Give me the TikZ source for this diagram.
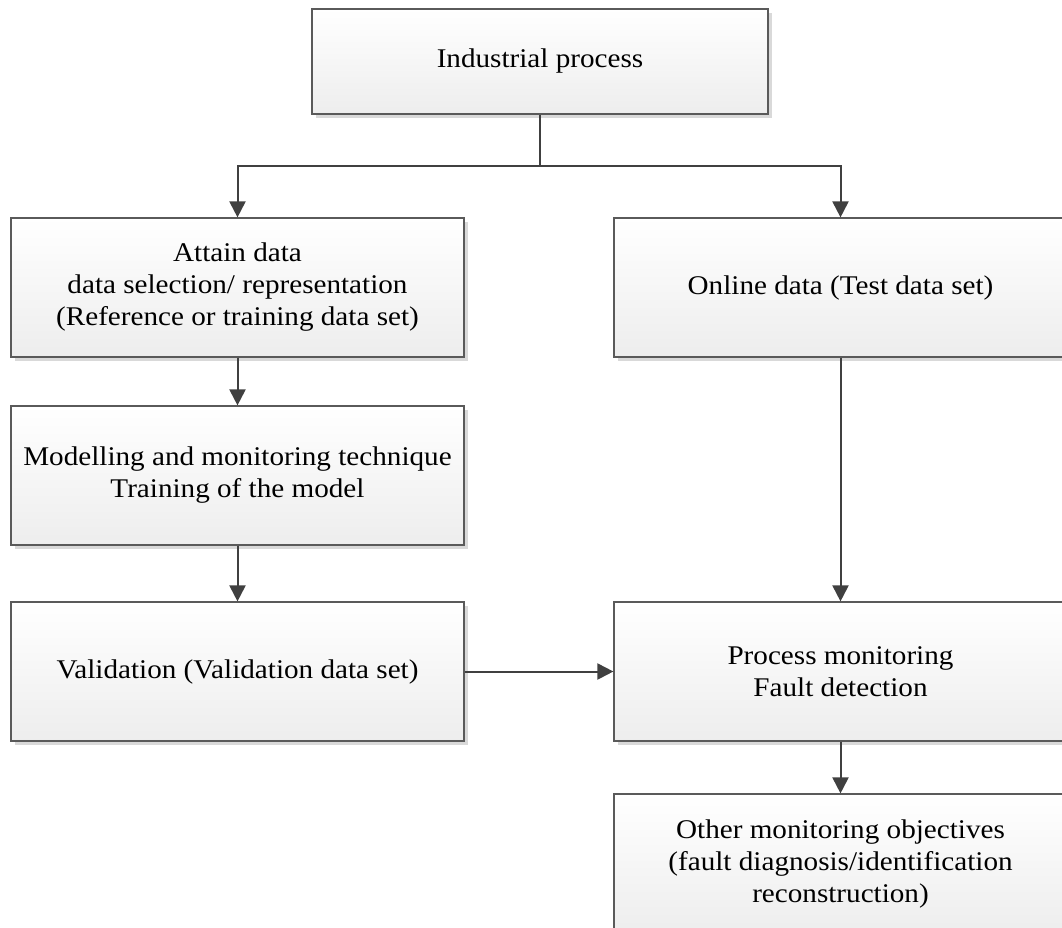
\documentclass[tikz,border=0pt]{standalone}
\usepackage{fontspec}
\setmainfont[FakeStretch=1.08]{Liberation Serif}
\usetikzlibrary{arrows.meta,shadows}
\definecolor{linec}{HTML}{404040}
\definecolor{boxc}{HTML}{5A5A5A}
\tikzset{
  box/.style={draw=boxc, line width=1.2pt, top color=white, bottom color=black!7,
    minimum width=453pt, minimum height=139pt, align=center, inner sep=0pt,
    font=\fontsize{27}{32}\selectfont,
    drop shadow={shadow xshift=4pt, shadow yshift=-4pt, fill=black!15, opacity=1}},
  conn/.style={draw=linec, line width=2pt},
  arr/.style={conn, -{Triangle[length=16pt,width=16pt]}}
}
\begin{document}
\begin{tikzpicture}[x=1pt,y=-1pt]
\useasboundingbox (0,0) rectangle (1062,927);
\clip (0,0) rectangle (1062,927);
\node[box, minimum width=456pt, minimum height=105pt] (ind) at (540,61.5) {Industrial process};
\node[box] (att) at (237.5,287.5) {Attain data\\data selection/ representation\\(Reference or training data set)};
\node[box] (mod) at (237.5,475.5) {Modelling and monitoring technique\\Training of the model};
\node[box] (val) at (237.5,671.5) {Validation (Validation data set)};
\node[box] (onl) at (840.5,287.5) {Online data (Test data set)};
\node[box] (pm) at (840.5,671.5) {Process monitoring\\Fault detection};
\node[box] (oth) at (840.5,863.5) {Other monitoring objectives\\(fault diagnosis/identification\\reconstruction)};
\draw[conn] (ind.south) -- ++(0,51) coordinate (j);
\draw[arr] (j) -| (att.north);
\draw[arr] (j) -| (onl.north);
\draw[arr] (att) -- (mod);
\draw[arr] (mod) -- (val);
\draw[arr] (val) -- (pm);
\draw[arr] (onl) -- (pm);
\draw[arr] (pm) -- (oth);
\end{tikzpicture}
\end{document}
